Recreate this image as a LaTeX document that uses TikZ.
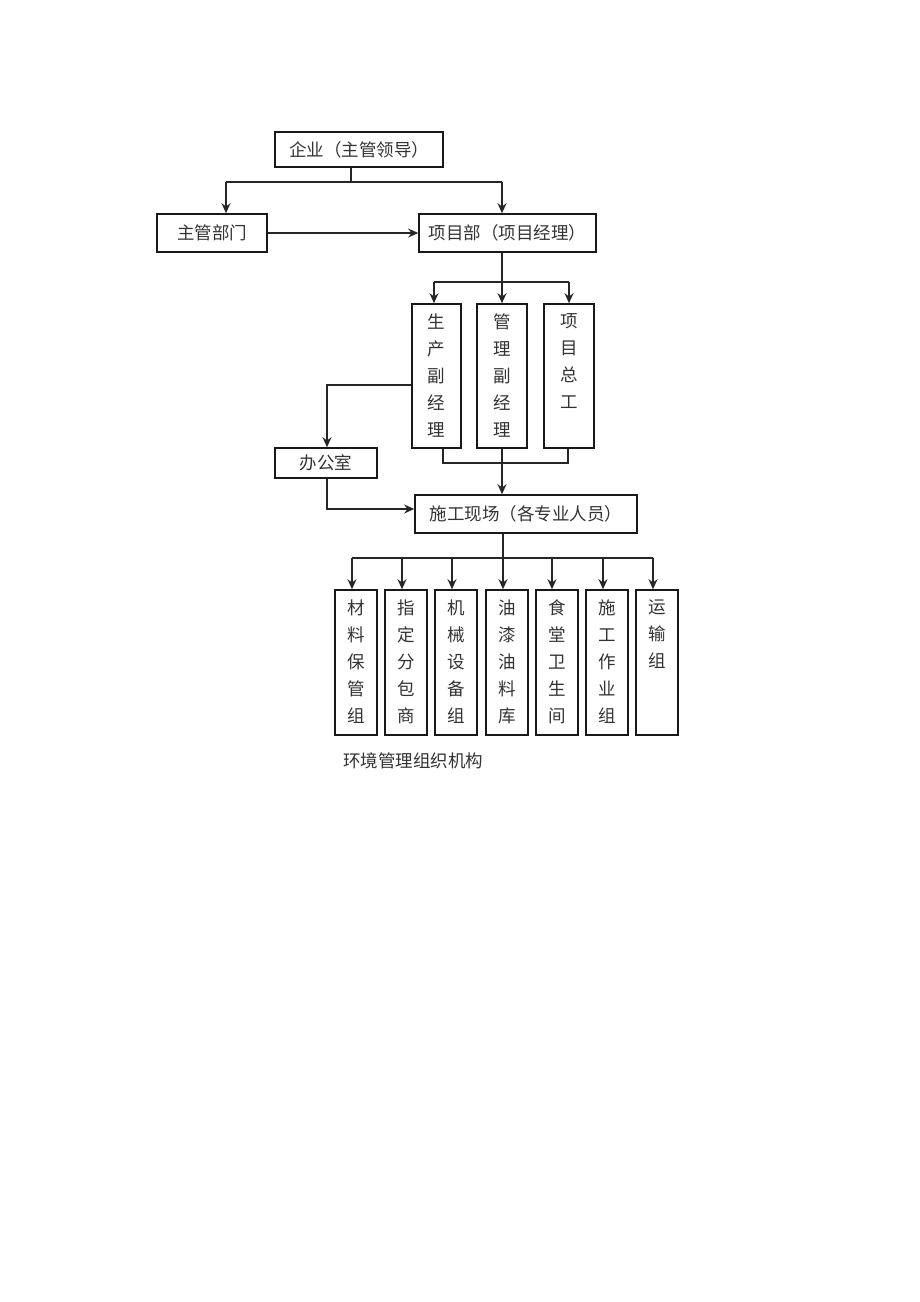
\documentclass[tikz,border=0pt]{standalone}
\usepackage{fontspec}
\setmainfont{Noto Sans CJK SC}
\usetikzlibrary{arrows.meta,calc}
\begin{document}
\begin{tikzpicture}[x=1pt,y=-1pt,
  box/.style={draw=black!90,line width=1.6pt,rectangle,inner sep=0pt},
  txt/.style={font=\fontsize{17.5}{27}\selectfont,text=black!80,inner sep=0pt},
  ln/.style={draw=black!85,line width=1.5pt},
  arr/.style={ln,-{Stealth[length=10pt,width=9pt]}}]
\useasboundingbox (0,0) rectangle (920,1302);
\fill[white] (0,0) rectangle (920,1302);
% top boxes
\node[box,minimum width=168pt,minimum height=35pt,txt] (top) at (359,149.5) {企业（主管领导）};
\node[box,minimum width=110pt,minimum height=38pt,txt] (zgbm) at (212,233) {主管部门};
\node[box,minimum width=177pt,minimum height=38pt,txt] (xmb) at (507.5,233) {项目部（项目经理）};
% second level vertical boxes
\node[box,minimum width=49pt,minimum height=144pt] (sc) at (436.5,376) {};
\node[box,minimum width=50pt,minimum height=144pt] (gl) at (502,376) {};
\node[box,minimum width=50pt,minimum height=144pt] (zg) at (569,376) {};
\node[txt,align=center,anchor=north] (sct) at ($(sc.north)+(0,10)$) {生\\产\\副\\经\\理};
\node[txt,align=center,anchor=north] (glt) at ($(gl.north)+(0,10)$) {管\\理\\副\\经\\理};
\node[txt,align=center,anchor=north] (zgt) at ($(zg.north)+(0,10)$) {项\\目\\总\\工};
\node[box,minimum width=102pt,minimum height=30pt,txt] (bgs) at (326,463) {办公室};
\node[box,minimum width=222pt,minimum height=38pt,txt] (sg) at (526,514) {施工现场（各专业人员）};
% bottom boxes
\foreach \n/\x/\t in {b1/356/材\\料\\保\\管\\组, b2/406/指\\定\\分\\包\\商, b3/456/机\\械\\设\\备\\组, b4/507/油\\漆\\油\\料\\库, b5/557/食\\堂\\卫\\生\\间, b6/607/施\\工\\作\\业\\组, b7/657/运\\输\\组}{
  \node[box,minimum width=42pt,minimum height=145pt] (\n) at (\x,662.5) {};
  \node[txt,align=center,anchor=north] (\n t) at ($(\n.north)+(0,10)$) {\t};
}
\node[txt,anchor=west] (cap) at (343,761) {环境管理组织机构};
% connectors
\coordinate (j1) at (351,182);
\coordinate (jl) at (226,182);
\coordinate (jr) at (502,182);
\draw[ln] (top.south -| j1) -- (j1);
\draw[ln] (jl) -- (jr);
\draw[arr] (jl) -- (zgbm.north -| jl);
\draw[arr] (jr) -- (xmb.north -| jr);
\draw[arr] (zgbm.east) -- (xmb.west);
\coordinate (k0) at (502,282);
\coordinate (kl) at (434,282);
\coordinate (kr) at (569,282);
\draw[ln] (xmb.south -| k0) -- (k0);
\draw[ln] (kl) -- (kr);
\draw[arr] (kl) -- (sc.north -| kl);
\draw[arr] (k0) -- (gl.north -| k0);
\draw[arr] (kr) -- (zg.north -| kr);
\coordinate (ml) at (443,463);
\coordinate (mr) at (568,463);
\draw[ln] (sc.south -| ml) -- (ml) -- (mr) -- (zg.south -| mr);
\draw[arr] (gl.south) -- (sg.north -| gl.south);
\coordinate (o1) at (327,385);
\draw[arr] (sc.west |- o1) -- (o1) -- (bgs.north -| o1);
\coordinate (o2) at (327,509);
\draw[arr] (bgs.south -| o2) -- (o2) -- (sg.west |- o2);
\coordinate (p0) at (503,558);
\coordinate (pl) at (352,558);
\coordinate (pr) at (653,558);
\draw[ln] (sg.south -| p0) -- (p0);
\draw[ln] (pl) -- (pr);
\foreach \n/\x in {b1/352,b2/402,b3/452,b4/503,b5/552,b6/603,b7/653}{
  \draw[arr] (\x,558) -- (\n.north -| {(\x,0)});
}
\end{tikzpicture}
\end{document}
